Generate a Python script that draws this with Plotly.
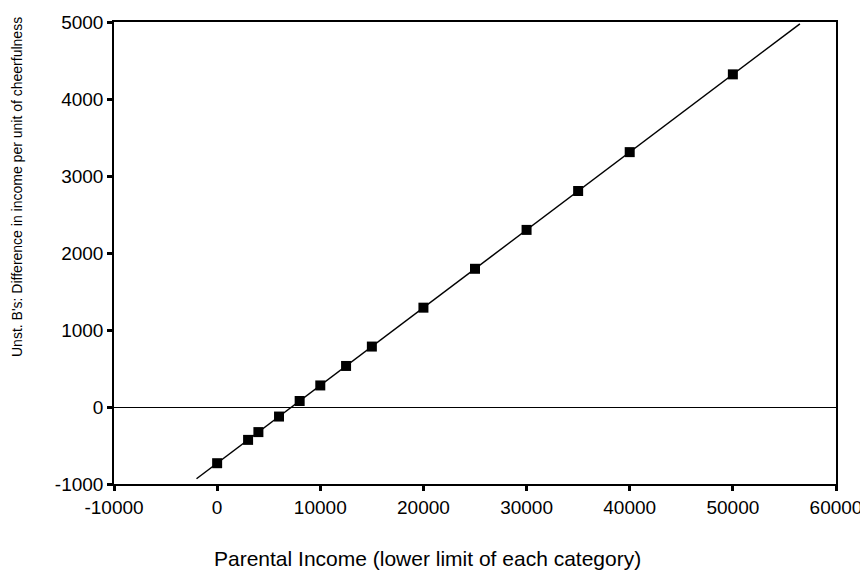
import numpy as np
import plotly.graph_objects as go

income = [0, 3000, 4000, 6000, 8000, 10000, 12500, 15000, 20000, 25000, 30000, 35000, 40000, 50000]
unst_b = [-730, -427, -326, -124, 78, 280, 533, 785, 1290, 1795, 2300, 2805, 3310, 4320]
fit_x_ends = [-2000, 56500]

x_ticks = [-10000, 0, 10000, 20000, 30000, 40000, 50000, 60000]
y_ticks = [-1000, 0, 1000, 2000, 3000, 4000, 5000]

slope, intercept = np.polyfit(income, unst_b, 1)
fit_y = [intercept + slope * v for v in fit_x_ends]

fig = go.Figure()
fig.add_trace(go.Scatter(x=fit_x_ends, y=fit_y, mode="lines",
                         line=dict(color="black", width=1.5), showlegend=False))
fig.add_trace(go.Scatter(x=income, y=unst_b, mode="markers",
                         marker=dict(symbol="square", size=10, color="black"), showlegend=False))

# page body has an 8px margin; compensate so the plot lands where the reference has it
OFF = 8
W, H = 868 - OFF, 586 - OFF
L, R, T, B = 114 - OFF, 32, 22 - OFF, 102

font = "Liberation Sans, Arial, sans-serif"
fig.update_layout(
    width=W, height=H,
    margin=dict(l=L, r=R, t=T, b=B),
    plot_bgcolor="white", paper_bgcolor="white",
    font=dict(family=font, color="black", size=19),
    xaxis=dict(range=[-10000, 60000], tickvals=x_ticks, ticktext=[str(v) for v in x_ticks],
               showgrid=False, zeroline=False, showline=True, linecolor="black", linewidth=1.5,
               mirror=True, ticks="outside", ticklen=5, tickwidth=3, tickcolor="black",
               tickfont=dict(size=19), automargin=False),
    yaxis=dict(range=[-1000, 5000], tickvals=y_ticks, ticktext=[str(v) for v in y_ticks],
               showgrid=False, zeroline=True, zerolinecolor="black", zerolinewidth=1,
               showline=True, linecolor="black", linewidth=1.5,
               mirror=True, ticks="outside", ticklen=5, tickwidth=3, tickcolor="black",
               tickfont=dict(size=19), automargin=False),
    annotations=[
        dict(text="Parental Income (lower limit of each category)", x=427, y=558,
             xref="paper", yref="paper", showarrow=False, font=dict(size=21)),
        dict(text="Unst. B's: Difference in income per unit of cheerfulness", textangle=-90,
             x=17, y=187, xref="paper", yref="paper", showarrow=False, font=dict(size=14)),
    ],
)
# convert page-pixel positions of titles to paper coordinates
pw = W - L - R
ph = H - T - B
for a in fig.layout.annotations:
    a.x = (a.x - OFF - L) / pw
    a.y = (H - B - (a.y - OFF)) / ph
    a.xanchor = "center"
    a.yanchor = "middle"

fig.write_html("out.html")
